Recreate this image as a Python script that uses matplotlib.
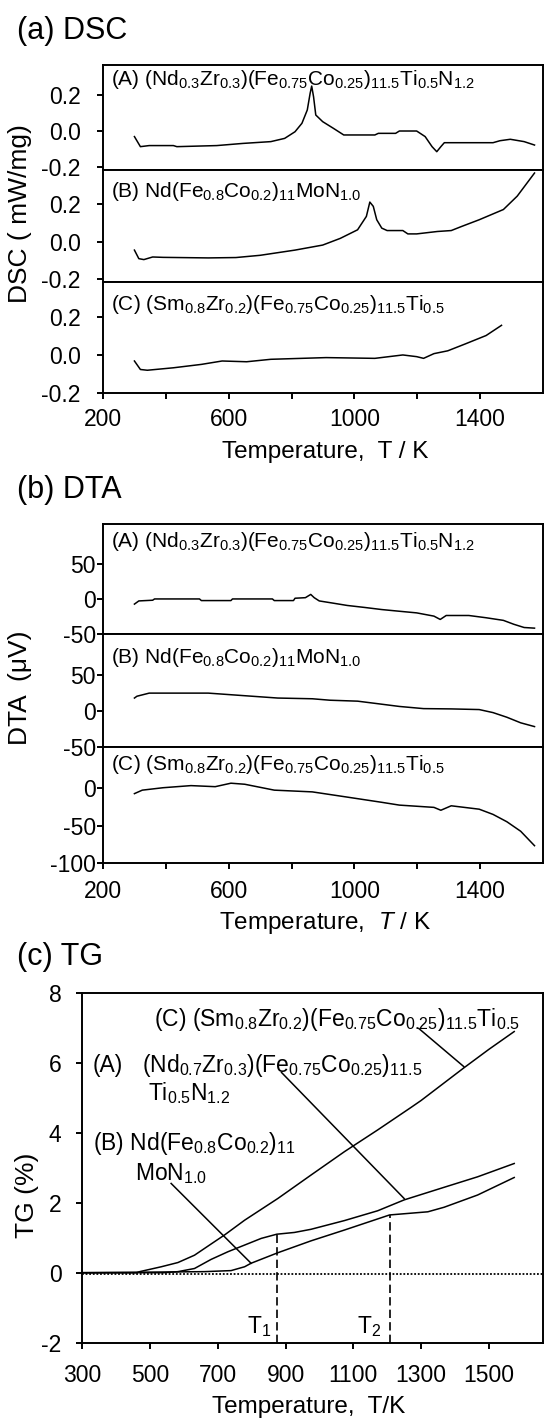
import matplotlib
matplotlib.use("Agg")
import matplotlib.pyplot as plt

plt.rcParams['font.family'] = ['Liberation Sans', 'DejaVu Sans']
plt.rcParams['mathtext.fontset'] = 'custom'
plt.rcParams['mathtext.rm'] = 'Liberation Sans'
plt.rcParams['mathtext.it'] = 'Liberation Sans:italic'
plt.rcParams['mathtext.bf'] = 'Liberation Sans:bold'
plt.rcParams['axes.unicode_minus'] = False

# ---------------- data ----------------
dsc_labels = [r"(A) (Nd$_{0.3}$Zr$_{0.3}$)(Fe$_{0.75}$Co$_{0.25}$)$_{11.5}$Ti$_{0.5}$N$_{1.2}$",
              r"(B) Nd(Fe$_{0.8}$Co$_{0.2}$)$_{11}$MoN$_{1.0}$",
              r"(C) (Sm$_{0.8}$Zr$_{0.2}$)(Fe$_{0.75}$Co$_{0.25}$)$_{11.5}$Ti$_{0.5}$"]

dsc_A_T = [300, 319, 347, 424, 435, 562, 645, 734, 778, 811, 833, 850, 859, 864, 870, 877, 899, 933,
           966, 1065, 1076, 1131, 1143, 1198, 1225, 1247, 1262, 1275, 1286, 1441, 1463, 1496, 1540, 1573]
dsc_A = [-0.031, -0.087, -0.081, -0.081, -0.087, -0.081, -0.069, -0.059, -0.041, -0.004, 0.043, 0.117,
         0.209, 0.25, 0.19, 0.089, 0.052, 0.015, -0.022, -0.022, -0.013, -0.013, 0.0, 0.0, -0.031, -0.087,
         -0.115, -0.087, -0.065, -0.065, -0.054, -0.046, -0.059, -0.078]

dsc_B_T = [300, 314, 330, 358, 391, 535, 623, 700, 811, 899, 955, 1010, 1038, 1049, 1060, 1071, 1087,
           1104, 1154, 1170, 1198, 1264, 1308, 1341, 1397, 1474, 1518, 1573]
dsc_B = [-0.045, -0.091, -0.096, -0.082, -0.084, -0.087, -0.085, -0.073, -0.045, -0.018, 0.018, 0.064,
         0.136, 0.213, 0.19, 0.118, 0.073, 0.06, 0.06, 0.042, 0.042, 0.055, 0.06, 0.082, 0.118, 0.173,
         0.245, 0.369]

dsc_C_T = [300, 319, 341, 424, 513, 579, 657, 734, 910, 1065, 1154, 1198, 1220, 1253, 1297, 1352, 1419, 1468]
dsc_C = [-0.032, -0.077, -0.081, -0.068, -0.05, -0.032, -0.036, -0.023, -0.014, -0.018, 0.0, -0.009,
         -0.018, 0.007, 0.022, 0.058, 0.103, 0.157]

dta_A_T = [300, 314, 358, 364, 507, 513, 607, 612, 739, 745, 806, 811, 844, 861, 872, 888, 933, 977,
           1032, 1087, 1143, 1198, 1253, 1273, 1292, 1364, 1419, 1474, 1507, 1540, 1573]
dta_A = [-7.3, -2.8, -1.8, 0, 0, -2.3, -2.3, 0, 0, -2.3, -2.3, 1, 1.8, 6.4, 1.8, -2.8, -6, -9.2, -12,
         -15, -17.4, -19.7, -24.3, -29, -23.4, -23.4, -26.6, -30.3, -35.8, -40.4, -41.3]

dta_B_T = [300, 308, 347, 535, 645, 756, 866, 922, 1010, 1065, 1143, 1220, 1308, 1397, 1441, 1485, 1529, 1573]
dta_B = [18, 20.5, 24.8, 24.8, 21.4, 18, 17, 15, 13.7, 10.7, 6.4, 3.4, 3, 2.1, -2.1, -8.5, -16.2, -21.4]

dta_C_T = [300, 325, 391, 480, 557, 607, 651, 745, 866, 977, 1087, 1143, 1253, 1275, 1308, 1397, 1441,
           1485, 1529, 1573]
dta_C = [-7.8, -3.2, 0, 2.8, 1.4, 6, 4.6, -3.2, -5.5, -12.4, -19.3, -23, -26, -29.8, -23.9, -28.4,
         -35.3, -45, -57.6, -76.7]

tg_C_T = [300, 460, 469, 533, 582, 631, 680, 720, 779, 877, 975, 1074, 1172, 1270, 1300, 1426, 1500, 1575]
tg_C = [0, 0, 0.03, 0.17, 0.29, 0.5, 0.82, 1.08, 1.5, 2.12, 2.79, 3.46, 4.08, 4.72, 4.92, 5.85, 6.38, 6.89]

tg_A_T = [300, 540, 582, 631, 680, 730, 779, 828, 874, 926, 975, 1074, 1172, 1250, 1368, 1467, 1575]
tg_A = [0, 0, 0.03, 0.12, 0.38, 0.6, 0.79, 0.98, 1.1, 1.15, 1.24, 1.49, 1.77, 2.08, 2.44, 2.74, 3.12]

tg_B_T = [300, 660, 739, 779, 798, 877, 975, 1074, 1207, 1320, 1368, 1467, 1575]
tg_B = [0, 0.03, 0.06, 0.17, 0.27, 0.57, 0.91, 1.22, 1.65, 1.74, 1.87, 2.22, 2.72]

# TG leader lines (T, TG)
lead_C = ([1293, 1426], [6.98, 5.89])
lead_A = ([888, 1250], [5.72, 2.12])
lead_B = ([562, 798], [2.55, 0.27])
T1, T1_top = 874, 1.1
T2, T2_top = 1207, 1.65

dsc_xticks = [200, 600, 1000, 1400]
dsc_xminor = [400, 800, 1200]
tg_xticks = [300, 500, 700, 900, 1100, 1300, 1500]
tg_yticks = [-2, 0, 2, 4, 6, 8]

# ---------------- layout ----------------
W, H = 545, 1420
fig = plt.figure(figsize=(W / 100, H / 100), dpi=100)


def rect(left, right, top, bottom):
    return [left / W, 1 - bottom / H, (right - left) / W, (bottom - top) / H]


LW_SP = 1.4
TICK_FS = 16.5
ANN_FS = 15
TITLE_FS = 22
XLAB_FS = 17.5
YLAB_FS = 19


def style(ax, show_x, ypad):
    for s in ax.spines.values():
        s.set_linewidth(LW_SP)
    ax.tick_params(direction='out', length=4, width=LW_SP, labelsize=TICK_FS)
    ax.tick_params(axis='y', pad=ypad)
    if not show_x:
        ax.tick_params(axis='x', which='both', bottom=False, labelbottom=False)


L, R = 103, 543
# ---- DSC ----
dsc_rows = [(65, 169.5, (-0.214, 0.367)), (169.5, 282.3, (-0.218, 0.388)), (282.3, 392.7, (-0.2, 0.385))]
dsc_data = [(dsc_A_T, dsc_A), (dsc_B_T, dsc_B), (dsc_C_T, dsc_C)]
dsc_text_y = [0.81, 0.759, 0.749]
for i, ((top, bot, yl), (tx, ty)) in enumerate(zip(dsc_rows, dsc_data)):
    ax = fig.add_axes(rect(L, R, top, bot))
    ax.plot(tx, ty, color='black', lw=1.1)
    ax.set_xlim(200, 1600)
    ax.set_ylim(*yl)
    ax.set_yticks([-0.2, 0.0, 0.2])
    ax.set_yticklabels(['-0.2', '0.0', '0.2'])
    ax.set_xticks(dsc_xticks)
    ax.set_xticks(dsc_xminor, minor=True)
    style(ax, i == 2, 12)
    if i == 2:
        ax.tick_params(axis='x', which='both', pad=7)
        ax.tick_params(axis='x', which='minor', length=4, width=LW_SP)
    ax.text(0.018, dsc_text_y[i], dsc_labels[i], transform=ax.transAxes, fontsize=ANN_FS,
            ha='left', va='baseline')

fig.text(17 / W, 1 - 31 / H, "(a) DSC", fontsize=TITLE_FS, ha='left', va='center')
fig.text(20 / W, 1 - 214 / H, "DSC ( mW/mg)", fontsize=YLAB_FS, rotation=90, ha='center', va='center')
fig.text(325 / W, 1 - 452 / H, "Temperature,  T / K", fontsize=XLAB_FS, ha='center', va='center')

# ---- DTA ----
dta_rows = [(524, 634.3, (-47, 106)), (634.3, 747.3, (-46, 106)), (747.3, 863.3, (-100, 53.5))]
dta_data = [(dta_A_T, dta_A), (dta_B_T, dta_B), (dta_C_T, dta_C)]
dta_ticks = [[-50, 0, 50], [-50, 0, 50], [-100, -50, 0]]
dta_text_y = [0.794, 0.743, 0.804]
for i, ((top, bot, yl), (tx, ty)) in enumerate(zip(dta_rows, dta_data)):
    ax = fig.add_axes(rect(L, R, top, bot))
    ax.plot(tx, ty, color='black', lw=1.1)
    ax.set_xlim(200, 1600)
    ax.set_ylim(*yl)
    ax.set_yticks(dta_ticks[i])
    ax.set_xticks(dsc_xticks)
    ax.set_xticks(dsc_xminor, minor=True)
    style(ax, i == 2, 1.0)
    if i == 2:
        ax.tick_params(axis='x', which='both', pad=8)
        ax.tick_params(axis='x', which='minor', length=4, width=LW_SP)
    ax.text(0.018, dta_text_y[i], dsc_labels[i], transform=ax.transAxes, fontsize=ANN_FS,
            ha='left', va='baseline')

fig.text(17 / W, 1 - 490 / H, "(b) DTA", fontsize=TITLE_FS, ha='left', va='center')
fig.text(20 / W, 1 - 688 / H, "DTA  (\u03bcV)", fontsize=YLAB_FS, rotation=90, ha='center', va='center')
fig.text(325 / W, 1 - 923 / H, "Temperature,  $T$ / K", fontsize=XLAB_FS, ha='center', va='center')

# ---- TG ----
ax = fig.add_axes(rect(82.4, 543, 992.7, 1342.7))
ax.plot(tg_C_T, tg_C, color='black', lw=1.1)
ax.plot(tg_A_T, tg_A, color='black', lw=1.1)
ax.plot(tg_B_T, tg_B, color='black', lw=1.1)
ax.axhline(-0.05, color='black', lw=1.3, ls=(0, (1, 1)))
ax.plot(*lead_C, color='black', lw=1.1)
ax.plot(*lead_A, color='black', lw=1.1)
ax.plot(*lead_B, color='black', lw=1.1)
ax.vlines([T1, T2], -2, [T1_top, T2_top], colors='black', lw=1.2, linestyles=(0, (5, 2.5)))
ax.set_xlim(300, 1660)
ax.set_ylim(-2, 8)
ax.set_xticks(tg_xticks)
ax.set_yticks(tg_yticks)
style(ax, True, 11)
ax.tick_params(axis='x', pad=11)
TG_FS = 16.5
ax.text(511, 7.05, r"(C) (Sm$_{0.8}$Zr$_{0.2}$)(Fe$_{0.75}$Co$_{0.25}$)$_{11.5}$Ti$_{0.5}$",
        fontsize=TG_FS, ha='left', va='baseline')
ax.text(331, 5.74, "(A)", fontsize=TG_FS, ha='left', va='baseline')
ax.text(477, 5.74, r"(Nd$_{0.7}$Zr$_{0.3}$)(Fe$_{0.75}$Co$_{0.25}$)$_{11.5}$",
        fontsize=TG_FS, ha='left', va='baseline')
ax.text(493, 4.93, r"Ti$_{0.5}$N$_{1.2}$", fontsize=TG_FS, ha='left', va='baseline')
ax.text(331, 3.51, r"(B) Nd(Fe$_{0.8}$Co$_{0.2}$)$_{11}$", fontsize=TG_FS, ha='left', va='baseline')
ax.text(454, 2.65, r"MoN$_{1.0}$", fontsize=TG_FS, ha='left', va='baseline')
ax.text(821, -1.55, r"T$_1$", fontsize=TG_FS, ha='center', va='center')
ax.text(1148, -1.55, r"T$_2$", fontsize=TG_FS, ha='center', va='center')

fig.text(17 / W, 1 - 957 / H, "(c) TG", fontsize=TITLE_FS, ha='left', va='center')
fig.text(27 / W, 1 - 1195 / H, "TG (%)", fontsize=YLAB_FS, rotation=90, ha='center', va='center')
fig.text(309 / W, 1 - 1407 / H, "Temperature,  T/K", fontsize=XLAB_FS, ha='center', va='center')

fig.savefig("out.png", dpi=100)
